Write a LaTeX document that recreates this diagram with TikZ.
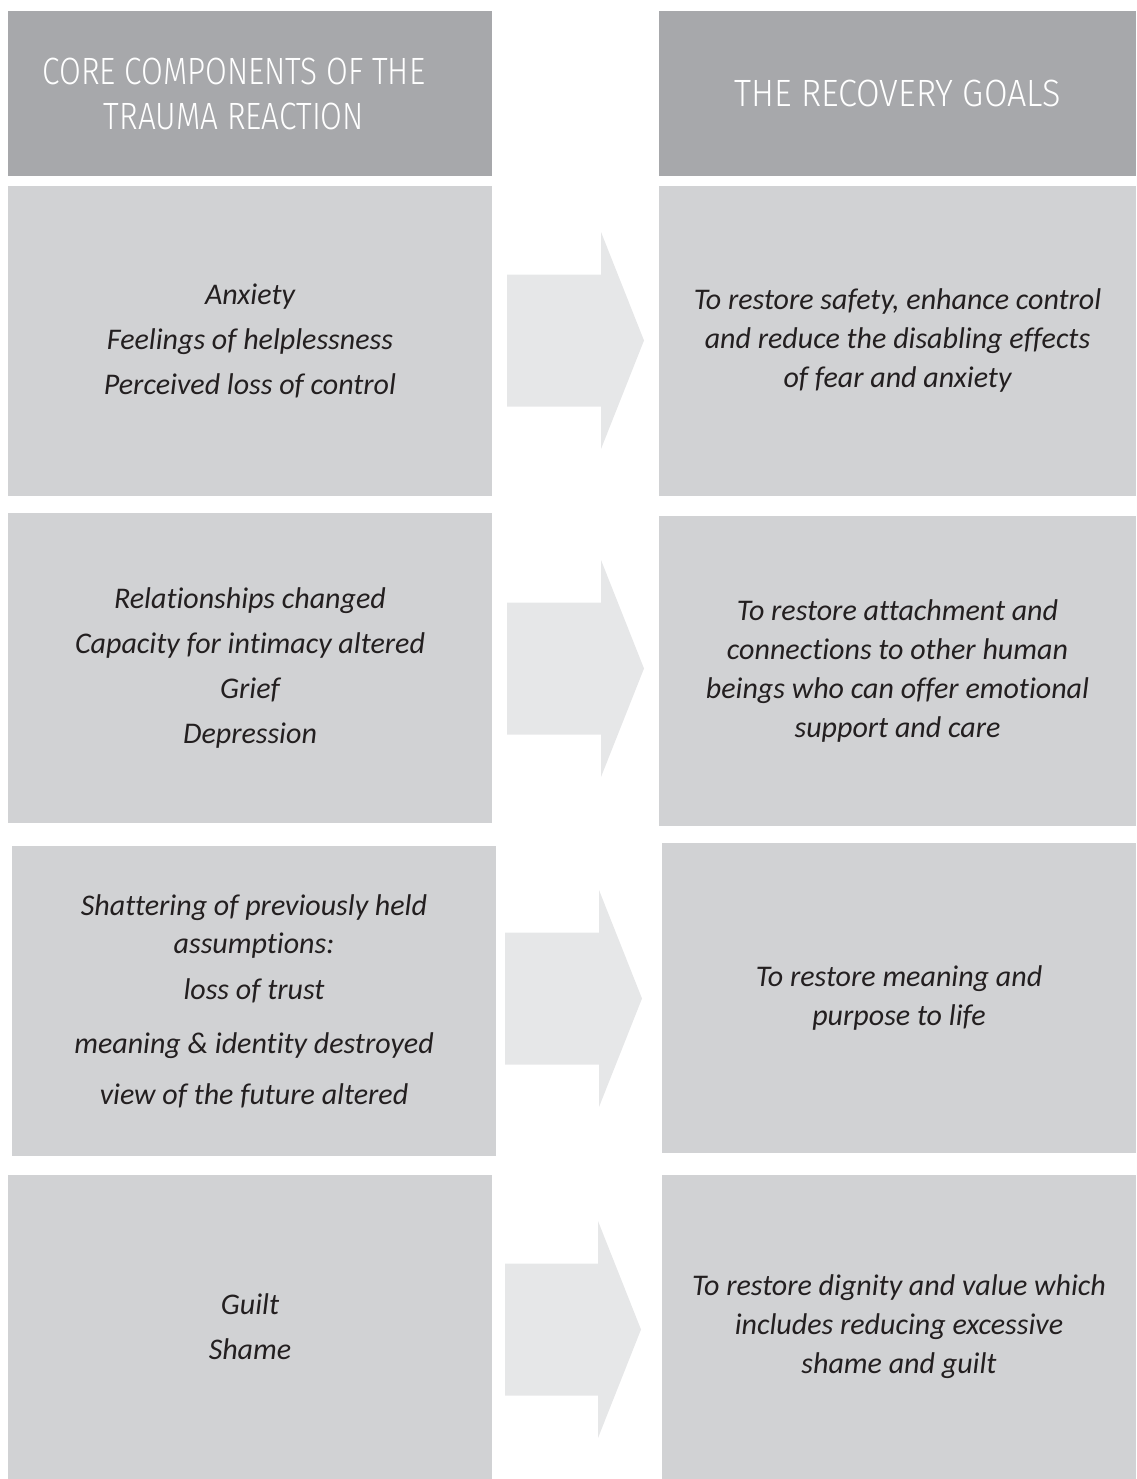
\documentclass[tikz,border=0pt]{standalone}
\usepackage{fontspec}
\usepackage{tikz}
\newfontfamily\bodyfont{Carlito}[RawFeature={-liga;-clig;-calt;-dlig}]
\newfontfamily\headfont{Fira Sans Light}[FakeStretch=0.83]
\newfontfamily\headfontwide{Fira Sans Light}[FakeStretch=0.9]

\definecolor{headgray}{HTML}{A7A8AB}
\definecolor{boxgray}{HTML}{D1D2D4}
\definecolor{arrowgray}{HTML}{E6E7E8}
\definecolor{textdark}{HTML}{231F20}

\tikzset{
  headbox/.style={fill=headgray, text=white, inner sep=0pt, align=center,
    minimum width=484pt, minimum height=165pt,
    font=\headfont\fontsize{38}{45}\selectfont},
  itembox/.style={fill=boxgray, text=textdark, inner sep=0pt, align=center,
    minimum width=484pt, minimum height=309.5pt,
    font=\bodyfont\itshape\fontsize{30}{45}\selectfont},
  goalbox/.style={itembox, minimum width=477pt,
    font=\bodyfont\itshape\fontsize{30}{39}\selectfont},
  arrowfill/.style={fill=arrowgray}
}

\begin{document}
\begin{tikzpicture}[x=1pt,y=-1pt]
\useasboundingbox (0,0) rectangle (1136,1479);

% headers
\node[headbox] (headL) at (250,93.5)
  {\hspace*{-32pt}CORE COMPONENTS OF THE\\\hspace*{-32pt}TRAUMA REACTION};
\node[headbox, minimum width=477pt, font=\headfontwide\fontsize{38}{45}\selectfont]
  (headR) at (897.5,93.5) {THE RECOVERY GOALS};

% row 1
\node[itembox] (react1) at (250,340.75)
  {Anxiety\\Feelings of helplessness\\Perceived loss of control};
\node[goalbox] (goal1) at (897.5,340.75)
  {To restore safety, enhance control\\and reduce the disabling effects\\of fear and anxiety};
\fill[arrowfill, shift={(507,340.5)}] (0,-66) -- (94,-66) -- (94,-108.5) -- (137,0)
  -- (94,108.5) -- (94,66) -- (0,66) -- cycle;

% row 2
\node[itembox] (react2) at (250,667.75)
  {Relationships changed\\Capacity for intimacy altered\\Grief\\Depression};
\node[goalbox, minimum height=309.7pt] (goal2) at (897.5,670.85)
  {To restore attachment and\\connections to other human\\beings who can offer emotional\\support and care};
\fill[arrowfill, shift={(507,668.5)}] (0,-66) -- (94,-66) -- (94,-108.5) -- (137,0)
  -- (94,108.5) -- (94,66) -- (0,66) -- cycle;

% row 3
\node[itembox, minimum height=309.7pt, font=\bodyfont\itshape\fontsize{30}{38}\selectfont]
  (react3) at (254,1000.85)
  {Shattering of previously held\\assumptions:\\[8pt]loss of trust\\[16pt]meaning \& identity destroyed\\[13pt]view of the future altered};
\node[goalbox, minimum width=474pt, minimum height=309.7pt] (goal3) at (899,997.85)
  {To restore meaning and\\purpose to life};
\fill[arrowfill, shift={(505,998.5)}] (0,-66) -- (94,-66) -- (94,-108.5) -- (137,0)
  -- (94,108.5) -- (94,66) -- (0,66) -- cycle;

% row 4
\node[itembox, minimum height=304pt] (react4) at (250,1327) {Guilt\\Shame};
\node[goalbox, minimum width=474pt, minimum height=304pt] (goal4) at (899,1327)
  {To restore dignity and value which\\includes reducing excessive\\shame and guilt};
\fill[arrowfill, shift={(505,1329.5)}] (0,-66) -- (93,-66) -- (93,-108.5) -- (136,0)
  -- (93,108.5) -- (93,66) -- (0,66) -- cycle;

\end{tikzpicture}
\end{document}
